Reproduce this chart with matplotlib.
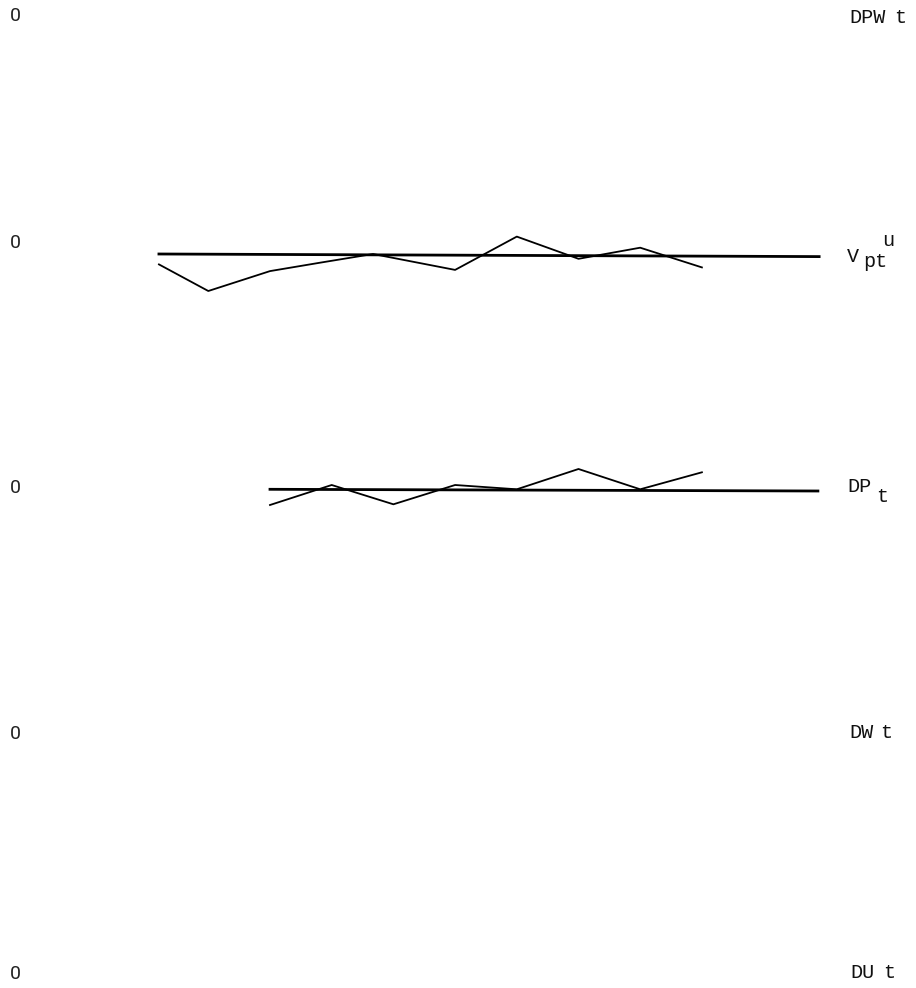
import matplotlib

matplotlib.use("Agg")
import matplotlib.pyplot as plt  # noqa: E402

W, H, DPI = 916, 988, 100

# observed series (deviations from zero, one row each)
x_vpt = [1.2, 2, 3, 3.83, 4.67, 6, 7, 8, 9, 10]
vpt = [-2.14, -4.80, -2.81, -1.95, -1.10, -2.69, 0.64, -1.58, -0.47, -2.44]
x_vpt_trend = [1.2, 11.9]
vpt_trend = [-1.10, -1.36]

x_dp = [3, 4, 5, 6, 7, 8, 9, 10]
dp = [-1.70, 0.30, -1.63, 0.30, -0.13, 1.90, -0.13, 1.57]
x_dp_trend = [3, 11.88]
dp_trend = [-0.13, -0.30]

# row labels as (text, x pixel, baseline shift in pixels)
row_labels = [
    [("DPW", 849, 6.7), ("t", 894, 6.7)],
    [("V", 847, 19), ("pt", 863, 24), ("u", 882, 3)],
    [("DP", 847, 4), ("t", 876, 14)],
    [("DW", 849, 4), ("t", 880, 4)],
    [("DU", 850, 4), ("t", 883, 4)],
]
row_series = [
    [],
    [(x_vpt, vpt, 1.3), (x_vpt_trend, vpt_trend, 2.0)],
    [(x_dp, dp, 1.3), (x_dp_trend, dp_trend, 2.0)],
    [],
    [],
]
row_zero_px = [16, 243, 488, 734, 974]

fig = plt.figure(figsize=(W / DPI, H / DPI), dpi=DPI)

px_per_x = 61.7
xlim = (3 - 270 / px_per_x, 3 + (W - 270) / px_per_x)
ax_h = 200

for labels, series, zero_px in zip(row_labels, row_series, row_zero_px):
    ax = fig.add_axes([0, (H - zero_px - ax_h / 2) / H, 1, ax_h / H])
    ax.set_xlim(*xlim)
    ax.set_ylim(-10, 10)
    ax.axis("off")
    for xs, ys, lw in series:
        ax.plot(xs, ys, color="black", lw=lw, clip_on=False)

    tr = ax.get_yaxis_transform()
    ax.annotate("0", xy=(15 / W, 0), xycoords=tr, ha="center", va="center",
                fontsize=14, family=["Roboto", "DejaVu Sans"],
                color="#222222", annotation_clip=False)
    for s, px, dy in labels:
        ax.annotate(s, xy=(px / W, 0), xycoords=tr, textcoords="offset points",
                    xytext=(0, -dy * 72 / DPI), ha="left", va="baseline",
                    fontsize=14.5, family="Liberation Mono", color="#111111",
                    annotation_clip=False)

fig.savefig("out.png", dpi=DPI)
